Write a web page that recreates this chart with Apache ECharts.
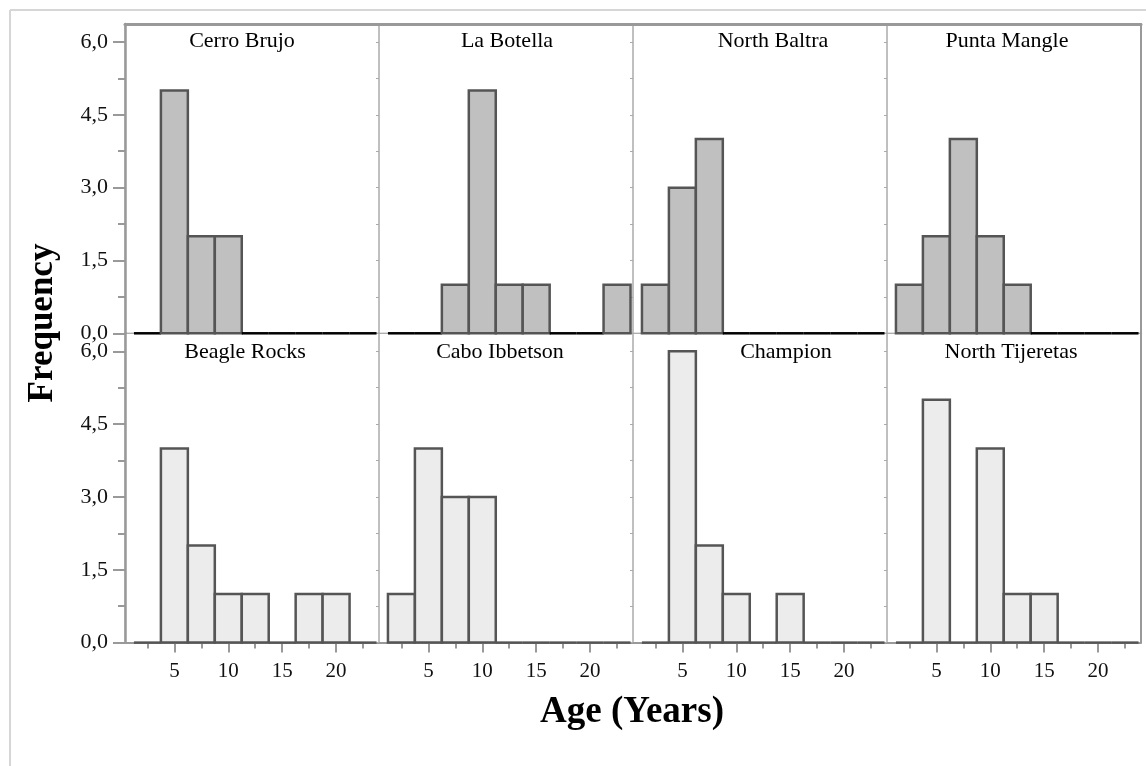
<!DOCTYPE html>
<html>
<head>
<meta charset="utf-8">
<title>Age distribution by site</title>
<script src="https://cdn.jsdelivr.net/npm/echarts@6/dist/echarts.min.js"></script>
<style>
  html, body { margin: 0; padding: 0; background: #fff; }
  #chart { width: 1146px; height: 766px; }
</style>
</head>
<body>
<div id="chart"></div>
<script>
// ---- data -------------------------------------------------------------
const sites = ['Cerro Brujo', 'La Botella', 'North Baltra', 'Punta Mangle',
               'Beagle Rocks', 'Cabo Ibbetson', 'Champion', 'North Tijeretas'];
const binCenters = [2.5, 5, 7.5, 10, 12.5, 15, 17.5, 20, 22.5];
const binWidth = 2.5;

const cerroBrujo     = [0, 5, 2, 2, 0, 0, 0, 0, 0];
const laBotella      = [0, 0, 1, 5, 1, 1, 0, 0, 1];
const northBaltra    = [1, 3, 4, 0, 0, 0, 0, 0, 0];
const puntaMangle    = [1, 2, 4, 2, 1, 0, 0, 0, 0];
const beagleRocks    = [0, 4, 2, 1, 1, 0, 1, 1, 0];
const caboIbbetson   = [1, 4, 3, 3, 0, 0, 0, 0, 0];
const champion       = [0, 6, 2, 1, 0, 1, 0, 0, 0];
const northTijeretas = [0, 5, 0, 4, 1, 1, 0, 0, 0];
const counts = [cerroBrujo, laBotella, northBaltra, puntaMangle,
                beagleRocks, caboIbbetson, champion, northTijeretas];

const xTicks = [5, 10, 15, 20];
const xMinorTicks = [2.5, 7.5, 12.5, 17.5, 22.5];
const yTicks = [0, 1.5, 3, 4.5, 6];
const yMinorTicks = [0.75, 2.25, 3.75, 5.25];

// ---- layout -----------------------------------------------------------
const FONT = "'Liberation Serif', 'Times New Roman', serif";
const layout = { left: 125, top: 24, colW: 254, rowH: 309.3,
                 xMin: 0.42, xMax: 23.98, yMax: 6.37 };
const titlePos = [[242, 41.5], [507, 41.5], [773, 41.5], [1007, 41.5],
                  [245, 352], [500, 352], [786, 352], [1011, 352]];
const rowFill = ['#c0c0c0', '#ececec'];
const zeroLine = ['#000', '#555'];

const grids = [], xAxes = [], yAxes = [], series = [], graphics = [];

sites.forEach((name, i) => {
  const row = Math.floor(i / 4), col = i % 4;
  grids.push({
    left: layout.left + col * layout.colW,
    top: layout.top + row * layout.rowH,
    width: layout.colW, height: layout.rowH,
    show: true, borderColor: '#aaa', borderWidth: 1,
    backgroundColor: 'transparent'
  });

  const xBase = { type: 'value', gridIndex: i, min: layout.xMin, max: layout.xMax,
                  splitLine: { show: false } };
  const yBase = { type: 'value', gridIndex: i, min: 0, max: layout.yMax,
                  splitLine: { show: false } };
  const bottomRow = row === 1;

  // main x axis (bins are drawn against this one)
  const mainX = xAxes.length;
  xAxes.push(Object.assign({}, xBase, {
    position: 'bottom',
    axisLine: { show: bottomRow, onZero: false, lineStyle: { color: '#999', width: 2 } },
    axisTick: { show: bottomRow, length: 10, customValues: xTicks,
                lineStyle: { color: '#999', width: 2 } },
    axisLabel: { show: bottomRow, customValues: xTicks, margin: 18,
                 color: '#111', fontFamily: FONT, fontSize: 21 }
  }));
  if (bottomRow) {
    // minor x ticks
    xAxes.push(Object.assign({}, xBase, {
      position: 'bottom',
      axisLine: { show: false },
      axisTick: { show: true, length: 6, customValues: xMinorTicks,
                  lineStyle: { color: '#999', width: 2 } },
      axisLabel: { show: false }
    }));
  } else {
    // heavy frame along the top edge
    xAxes.push(Object.assign({}, xBase, {
      position: 'top',
      axisLine: { show: true, onZero: false, lineStyle: { color: '#999', width: 3 } },
      axisTick: { show: false }, axisLabel: { show: false }
    }));
  }

  const outer = col === 0;
  const mainY = yAxes.length;
  yAxes.push(Object.assign({}, yBase, {
    position: 'left',
    axisLine: { show: outer, onZero: false, lineStyle: { color: '#999', width: 2.5 } },
    axisTick: { show: true, length: outer ? 12 : 3, customValues: yTicks,
                lineStyle: { color: outer ? '#999' : '#aaa', width: outer ? 2 : 1 } },
    axisLabel: { show: outer, customValues: yTicks, margin: 17,
                 color: '#111', fontFamily: FONT, fontSize: 22,
                 formatter: v => v.toFixed(1).replace('.', ',') }
  }));
  yAxes.push(Object.assign({}, yBase, {
    position: 'left',
    axisLine: { show: false },
    axisTick: { show: true, length: outer ? 7 : 3, customValues: yMinorTicks,
                lineStyle: { color: outer ? '#999' : '#aaa', width: outer ? 2 : 1 } },
    axisLabel: { show: false }
  }));
  if (col === 3) {
    yAxes.push(Object.assign({}, yBase, {
      position: 'right',
      axisLine: { show: true, onZero: false, lineStyle: { color: '#999', width: 2 } },
      axisTick: { show: false }, axisLabel: { show: false }
    }));
  }

  series.push({
    type: 'custom',
    name: name,
    xAxisIndex: mainX,
    yAxisIndex: mainY,
    clip: false,
    z: 5,
    data: counts[i].map((n, k) => [binCenters[k], n]),
    renderItem: (params, api) => {
      const c = api.value(0), n = api.value(1);
      const p0 = api.coord([c - binWidth / 2, n]);
      const p1 = api.coord([c + binWidth / 2, 0]);
      if (n === 0) {
        return { type: 'line',
                 shape: { x1: p0[0], y1: p1[1], x2: p1[0], y2: p1[1] },
                 style: { stroke: zeroLine[row], lineWidth: 2.5 } };
      }
      return { type: 'rect',
               shape: { x: p0[0], y: p0[1], width: p1[0] - p0[0], height: p1[1] - p0[1] },
               style: { fill: rowFill[row], stroke: '#555', lineWidth: 2.5 } };
    }
  });

  graphics.push({
    type: 'text', x: titlePos[i][0], y: titlePos[i][1], z: 10,
    style: { text: name, align: 'center', verticalAlign: 'middle',
             fill: '#000', font: '22px ' + FONT }
  });
});

// outer light frame
graphics.push({ type: 'line', shape: { x1: 10, y1: 10, x2: 1146, y2: 10 },
                style: { stroke: '#d6d6d6', lineWidth: 2 } });
graphics.push({ type: 'line', shape: { x1: 10, y1: 10, x2: 10, y2: 766 },
                style: { stroke: '#d6d6d6', lineWidth: 2 } });

// axis titles
graphics.push({
  type: 'text', x: 43, y: 323, rotation: Math.PI / 2,
  style: { text: 'Frequency', align: 'center', verticalAlign: 'middle',
           fill: '#000', font: 'bold 35px ' + FONT }
});
graphics.push({
  type: 'text', x: 632, y: 712,
  style: { text: 'Age (Years)', align: 'center', verticalAlign: 'middle',
           fill: '#000', font: 'bold 37px ' + FONT }
});

const chart = echarts.init(document.getElementById('chart'), null, { renderer: 'canvas' });
chart.setOption({
  animation: false,
  backgroundColor: '#fff',
  grid: grids,
  xAxis: xAxes,
  yAxis: yAxes,
  series: series,
  graphic: graphics
});
</script>
</body>
</html>
